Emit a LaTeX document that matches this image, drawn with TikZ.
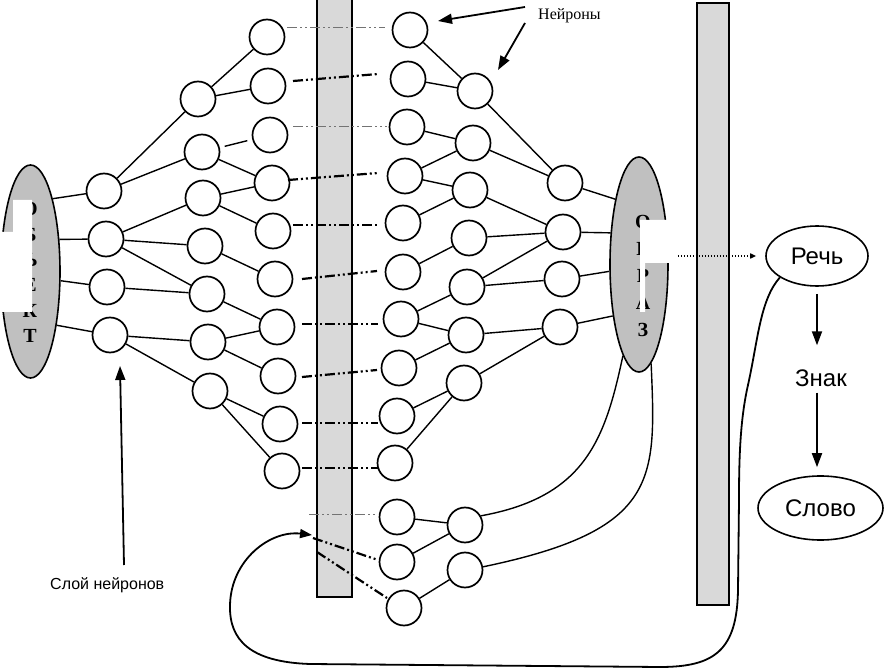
\documentclass[tikz,border=0pt]{standalone}
\usepackage{fontspec}
\setmainfont{Liberation Serif}
\newfontfamily\sansf{Liberation Sans}
\usetikzlibrary{shapes.geometric,arrows.meta,calc}
\definecolor{barfill}{RGB}{217,217,217}
\definecolor{ellfill}{RGB}{192,192,192}
\begin{document}
\begin{tikzpicture}[x=1pt,y=-1pt,
  neu/.style={circle,draw,fill=white,minimum size=35pt,inner sep=0pt,line width=1.7pt},
  con/.style={line width=1.4pt},
  barbox/.style={draw,line width=1.8pt,fill=barfill,inner sep=0pt},
  ellbox/.style={ellipse,draw,line width=1.6pt,inner sep=0pt},
  ddk/.style={line width=2.2pt,dash pattern=on 10pt off 3pt on 2pt off 3pt on 2pt off 3pt},
  ddg/.style={line width=1pt,black!55,dash pattern=on 10pt off 3pt on 2pt off 3pt on 2pt off 3pt},
  arr/.style={line width=1.8pt,-{Triangle[length=14pt,width=10pt]}},
  ]
\useasboundingbox (0,0) rectangle (884,668);

% bars
\node[barbox,minimum width=35pt,minimum height=600pt] (BL) at (334.5,297) {};
\node[barbox,minimum width=32pt,minimum height=602pt] (BR) at (713,304) {};

% object / image ellipses
\node[ellbox,fill=ellfill,minimum width=59pt,minimum height=213pt] (L) at (30.5,271.5) {};
\node[font=\bfseries\fontsize{20}{25.4}\selectfont,align=center,inner sep=0pt] (Ltxt) at (30,272.5) {О\\Б\\Ъ\\Е\\К\\Т};
\fill[white] (13,200) -- (32,200) -- (32,312) -- (0,312) -- (0,232) -- (13,232) -- cycle;

\node[ellbox,fill=ellfill,minimum width=58pt,minimum height=215pt] (R) at (639,264.5) {};
\node[font=\bfseries\fontsize{20}{27}\selectfont,align=center,inner sep=0pt] (Rtxt) at (643,276) {О\\Б\\Р\\А\\З};
\fill[white] (640,220) -- (670,220) -- (670,263) -- (645,263) -- (645,312) -- (640,312) -- cycle;

% right column
\node[ellbox,minimum width=102pt,minimum height=60pt,font=\sansf\fontsize{24}{28}\selectfont] (S) at (817,256) {Речь};
\node[inner sep=0pt,font=\sansf\fontsize{24}{28}\selectfont] (Z) at (821,378) {Знак};
\node[ellbox,minimum width=125pt,minimum height=64pt,font=\sansf\fontsize{24}{28}\selectfont] (W) at (820.5,508) {Слово};

% labels
\node[anchor=base west,inner sep=0pt,font=\fontsize{16}{19}\selectfont] (N) at (538,20) {Нейроны};
\node[anchor=base west,inner sep=0pt,font=\sansf\fontsize{16}{19}\selectfont] (Sl) at (50,589) {Слой нейронов};

% neurons
\foreach \n/\x/\y in {A1/104/191,A2/106/239,A3/107/287,A4/110/335,
  B1/198/99,B2/202/152,B3/203/198,B4/205/246,B5/207/294,B6/208/342,B7/210/391,
  C1/267/37,C2/268/86,C3/270/135,C4/272/183,C5/273/231,C6/275/279,C7/277/327,C8/278/376,C9/280/424,C10/282/471,
  D1/410/30,D2/408/79,D3/407/127,D4/405/176,D5/403/223,D6/403/272,D7/401/319,D8/399/368,D9/397/416,D10/395/463,D11/397/517,D12/397/562,D13/404/608,
  E1/475/91,E2/473/143,E3/470/190,E4/469/238,E5/467/287,E6/466/335,E7/464/383,E8/465/525,E9/465/570,
  F1/565/183,F2/563/232,F3/562/279,F4/560/327}
  \node[neu] (\n) at (\x,\y) {};

% left network connections
\draw[con] (L.73) -- (A1);
\draw[con] (L.48) -- (A2);
\draw[con] (L.-17) -- (A3);
\draw[con] (L.-64) -- (A4);
\foreach \a/\b in {A1/B1,A1/B2,A2/B3,A2/B4,A2/B5,A3/B5,A4/B6,A4/B7,
  B1/C1,B1/C2,B2/C4,B3/C4,B3/C5,B4/C6,B5/C7,B6/C7,B6/C8,B7/C9,B7/C10}
  \draw[con] (\a) -- (\b);
\draw[con,shorten <=5pt,shorten >=5pt] (B2) -- (C3);

% right network connections
\foreach \a/\b in {D1/E1,D2/E1,D3/E2,D4/E2,D4/E3,D5/E3,D6/E4,D7/E5,D7/E6,D8/E6,D9/E7,D10/E7,
  D11/E8,D12/E8,D13/E9,E1/F1,E2/F1,E3/F2,E4/F2,E5/F2,E5/F3,E6/F4,E7/F4}
  \draw[con] (\a) -- (\b);
\draw[con] (F1) -- (R.110);
\draw[con] (F2) -- (R.132);
\draw[con] (F3) -- (R.193);
\draw[con] (F4) -- (R.243);

% dash-dot links across the left bar
\draw[ddg] ($(C1)+(20,-9)$) -- ($(D1)+(-25,-2)$);
\draw[ddk] ($(C2)+(25,-5)$) -- ($(D2)+(-30,-5)$);
\draw[ddg] ($(C3)+(23,-8)$) -- ($(D3)+(-20,0)$);
\draw[ddk] ($(C4)+(16,-3)$) -- ($(D4)+(-27,-3)$);
\draw[ddk] ($(C5)+(20,-6)$) -- ($(D5)+(-25,2)$);
\draw[ddk] ($(C6)+(27,0)$) -- ($(D6)+(-26,-1)$);
\draw[ddk] ($(C7)+(25,-3)$) -- ($(D7)+(-23,5)$);
\draw[ddk] ($(C8)+(24,1)$) -- ($(D8)+(-22,2)$);
\draw[ddk] ($(C9)+(22,-1)$) -- ($(D9)+(-19,7)$);
\draw[ddk] ($(C10)+(20,-3)$) -- ($(D10)+(-17,5)$);
\draw[ddg] ($(D11)+(-88,-3)$) -- ($(D11)+(-20,-3)$);
\draw[ddk] ($(D12)+(-84,-24)$) -- ($(D12)+(-19,-2)$);
\draw[ddk] ($(D13)+(-87,-56)$) -- ($(D13)+(-17,-10)$);

% curves from the image ellipse to the lower neurons
\draw[con] (R.260) .. controls (605,440) and (585,497) .. (E8.30);
\draw[con] (R.277) .. controls (656,480) and (660,530) .. (E9.10);

% long feedback curve
\coordinate (tipL) at (312,535);
\draw[line width=1.8pt,-{Triangle[length=12pt,width=9pt]}] (S.210) .. controls (760,300) and (758,340) .. (748,385)
  .. controls (740,420) and (739,460) .. (739,500) -- (738,590)
  .. controls (737,650) and (715,667) .. (660,667) -- (310,664)
  .. controls (250,662) and (229,640) .. (230,605)
  .. controls (231,560) and (270,530) .. (tipL);

% dotted arrow image -> speech
\draw[line width=2pt,dash pattern=on 1.5pt off 1.5pt,-{Triangle[length=6pt,width=5pt]}] ($(R.east)+(9,-8.5)$) -- ($(S.west)+(-9,0)$);

% speech -> sign -> word
\draw[arr,shorten <=7pt,shorten >=24pt] (S.south) -- (S.south |- Z.north);
\draw[arr,shorten <=6pt,shorten >=8pt] (S.south |- Z.south) -- (S.south |- W.north);

% label arrows
\coordinate (n1) at (525,7);
\coordinate (n2) at (525,23);
\draw[arr] (n1) -- ($(D1)+(28,-9)$);
\draw[arr] (n2) -- ($(E1)+(23,-21)$);
\coordinate (s1) at (124,565);
\draw[arr] (s1) -- ($(A4)+(10,31)$);
\end{tikzpicture}
\end{document}
